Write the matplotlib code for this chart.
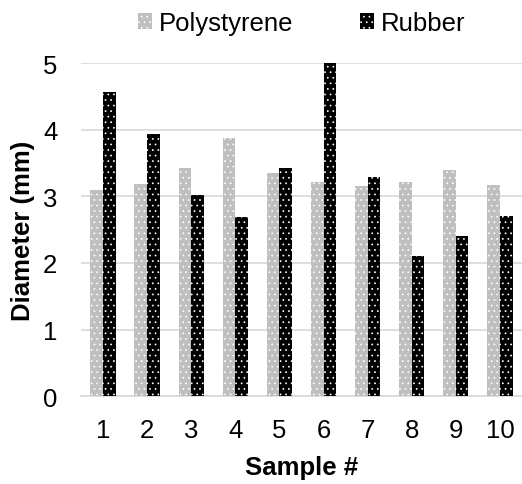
import matplotlib.pyplot as plt
import numpy as np

plt.rcParams["font.family"] = ["Liberation Sans", "DejaVu Sans"]
plt.rcParams["hatch.linewidth"] = 0.5

# Data
samples = ["1", "2", "3", "4", "5", "6", "7", "8", "9", "10"]
polystyrene = [3.10, 3.18, 3.43, 3.87, 3.35, 3.21, 3.15, 3.21, 3.40, 3.17]
rubber = [4.57, 3.93, 3.02, 2.69, 3.43, 5.00, 3.29, 2.10, 2.40, 2.70]

fig = plt.figure(figsize=(5.22, 4.85), dpi=100)
ax = fig.add_axes([0.155, 0.181, 0.845, 0.687])

x = np.arange(len(samples))
width = 0.286

ax.bar(x - width / 2, polystyrene, width, color="#BFBFBF", edgecolor="white",
       hatch="...", linewidth=0, label="Polystyrene", zorder=3)
ax.bar(x + width / 2, rubber, width, color="black", edgecolor="white",
       hatch="...", linewidth=0, label="Rubber", zorder=3)

ax.set_xlim(-0.5, len(samples) - 0.5)
ax.set_ylim(0, 5)
ax.set_yticks(range(6))
ax.set_xticks(x)
ax.set_xticklabels(samples)
ax.tick_params(axis="both", length=0, labelsize=18.5)
ax.tick_params(axis="x", pad=16)
ax.tick_params(axis="y", pad=17)
ax.yaxis.grid(True, color="#D9D9D9", linewidth=1.2, zorder=0)
ax.set_axisbelow(True)
for side in ["top", "right", "left"]:
    ax.spines[side].set_visible(False)
ax.spines["bottom"].set_color("#D9D9D9")
ax.spines["bottom"].set_linewidth(1.2)

ax.set_xlabel("Sample #", fontsize=18.5, fontweight="bold", labelpad=9)
ax.set_ylabel("Diameter (mm)", fontsize=18.5, fontweight="bold", labelpad=6)

ax.legend(loc="lower center", bbox_to_anchor=(0.5, 1.015), ncol=2, frameon=False,
          fontsize=18.5, handlelength=0.55, handleheight=0.55, handletextpad=0.25,
          columnspacing=2.6)

fig.savefig("out.png", dpi=100)
